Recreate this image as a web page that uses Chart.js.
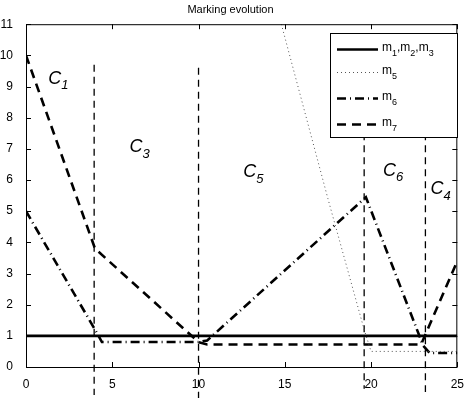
<!DOCTYPE html>
<html>
<head>
<meta charset="utf-8">
<script src="https://cdn.jsdelivr.net/npm/chart.js@4"></script>
<style>
  html, body { margin: 0; padding: 0; background: #fff; }
  #wrap { width: 466px; height: 398px; }
</style>
</head>
<body>
<div id="wrap"><canvas id="chart" width="466" height="398"></canvas></div>
<script>
// values
var m123X = [0, 25];
var m123Y = [1, 1];
var m5X = [14.8, 17.5, 19.6, 20, 25];
var m5Y = [11, 5.4, 1.2, 0.5, 0.5];
var m6X = [0, 4, 4.4, 10, 10.5, 19.7, 22.8, 23, 23.4, 25];
var m6Y = [5, 1.2, 0.8, 0.8, 0.85, 5.45, 1.0, 0.7, 0.45, 0.45];
var m7X = [0, 4, 10, 10.5, 22.9, 25];
var m7Y = [10, 3.8, 0.8, 0.72, 0.72, 3.4];

// phase boundaries (x, top, bottom)
var boundX = [3.95, 10, 19.6, 23.15];
var boundTop = [9.7, 9.6, 7.5, 7.5];
var boundBottom = [-0.9, -1.0, -0.7, -0.8];

// region labels
var regionName = ['1', '3', '5', '6', '4'];
var regionX = [1.7, 6.4, 13.0, 21.1, 23.85];
var regionY = [9.25, 7.05, 6.25, 6.3, 5.7];

var xTickVals = [0, 5, 10, 15, 20, 25];
var yTickVals = [0, 1, 2, 3, 4, 5, 6, 7, 8, 9, 10, 11];

var legendSubs = [['1', '2', '3'], ['5'], ['6'], ['7']];

function pts(xs, ys) {
    return xs.map(function (x, i) { return { x: x, y: ys[i] }; });
}

var lineStyles = [
    { borderColor: '#000', borderWidth: 2.6, borderDash: [] },
    { borderColor: '#555', borderWidth: 1, borderDash: [1, 3] },
    { borderColor: '#000', borderWidth: 2.6, borderDash: [9, 4, 1, 4] },
    { borderColor: '#000', borderWidth: 2.6, borderDash: [9, 6] }
];

var datasets = [
    Object.assign({ label: 'm123', data: pts(m123X, m123Y) }, lineStyles[0]),
    Object.assign({ label: 'm5', data: pts(m5X, m5Y) }, lineStyles[1]),
    Object.assign({ label: 'm6', data: pts(m6X, m6Y) }, lineStyles[2]),
    Object.assign({ label: 'm7', data: pts(m7X, m7Y) }, lineStyles[3])
];

boundX.forEach(function (bx, i) {
    datasets.push({
        label: 'bound' + i,
        data: [{ x: bx, y: boundTop[i] }, { x: bx, y: boundBottom[i] }],
        borderColor: '#000',
        borderWidth: 1.3,
        borderDash: [7, 5],
        clip: false
    });
});

var font = '"Liberation Sans", Arial, Helvetica, sans-serif';

// box, inward ticks, region labels and legend
var decor = {
    id: 'decor',
    afterDraw: function (chart) {
        var ctx = chart.ctx;
        var a = chart.chartArea;
        var xs = chart.scales.x, ys = chart.scales.y;
        ctx.save();
        ctx.strokeStyle = '#000';
        ctx.lineWidth = 1;
        ctx.strokeRect(a.left + 0.5, a.top + 0.5, a.right - a.left - 1, a.bottom - a.top);

        ctx.beginPath();
        xTickVals.forEach(function (v) {
            var px = Math.round(xs.getPixelForValue(v)) + 0.5;
            ctx.moveTo(px, a.bottom); ctx.lineTo(px, a.bottom - 5);
            ctx.moveTo(px, a.top); ctx.lineTo(px, a.top + 5);
        });
        yTickVals.forEach(function (v) {
            var py = Math.round(ys.getPixelForValue(v)) + 0.5;
            ctx.moveTo(a.left, py); ctx.lineTo(a.left + 5, py);
            ctx.moveTo(a.right, py); ctx.lineTo(a.right - 5, py);
        });
        ctx.stroke();

        // region labels C_i
        ctx.fillStyle = '#000';
        ctx.textBaseline = 'middle';
        ctx.textAlign = 'left';
        regionName.forEach(function (n, i) {
            var px = xs.getPixelForValue(regionX[i]);
            var py = ys.getPixelForValue(regionY[i]);
            ctx.font = 'italic 18px ' + font;
            ctx.fillText('C', px - 7, py);
            var w = ctx.measureText('C').width;
            ctx.font = 'italic 13px ' + font;
            ctx.fillText(n, px - 7 + w, py + 7);
        });

        // legend
        var lx = 330, ly = 33, lw = 127, lh = 104;
        ctx.fillStyle = '#fff';
        ctx.fillRect(lx, ly, lw, lh);
        ctx.strokeStyle = '#000';
        ctx.lineWidth = 1;
        ctx.setLineDash([]);
        ctx.strokeRect(lx + 0.5, ly + 0.5, lw, lh);
        var rowY = [49, 72, 98, 124];
        legendSubs.forEach(function (subs, i) {
            var st = lineStyles[i];
            ctx.strokeStyle = st.borderColor;
            ctx.lineWidth = st.borderWidth;
            ctx.setLineDash(st.borderDash);
            ctx.beginPath();
            ctx.moveTo(337, rowY[i] + 0.5);
            ctx.lineTo(378, rowY[i] + 0.5);
            ctx.stroke();
            ctx.setLineDash([]);
            ctx.fillStyle = '#000';
            var tx = 382;
            subs.forEach(function (s, j) {
                ctx.font = '12px ' + font;
                var t = (j > 0 ? ',' : '') + 'm';
                ctx.fillText(t, tx, rowY[i] - 1);
                tx += ctx.measureText(t).width;
                ctx.font = '9px ' + font;
                ctx.fillText(s, tx, rowY[i] + 5);
                tx += ctx.measureText(s).width;
            });
        });
        ctx.restore();
    }
};

new Chart(document.getElementById('chart'), {
    type: 'line',
    data: { datasets: datasets },
    plugins: [decor],
    options: {
        responsive: false,
        animation: false,
        layout: { padding: { left: 0, right: 5, top: 0, bottom: 0 } },
        elements: { point: { radius: 0 }, line: { tension: 0 } },
        plugins: {
            legend: { display: false },
            tooltip: { enabled: false },
            title: {
                display: true,
                text: 'Marking evolution',
                color: '#000',
                font: { family: font, size: 11, weight: 'normal' },
                padding: { top: 3, bottom: 8 }
            }
        },
        scales: {
            x: {
                type: 'linear',
                min: 0, max: 25,
                grid: { display: false },
                border: { display: false },
                afterFit: function (s) { s.height = 31; },
                ticks: {
                    stepSize: 5,
                    color: '#000',
                    padding: 2,
                    maxRotation: 0,
                    font: { family: font, size: 12 }
                }
            },
            y: {
                min: 0, max: 11,
                grid: { display: false },
                border: { display: false },
                afterFit: function (s) { s.width = 26; },
                ticks: {
                    stepSize: 1,
                    color: '#000',
                    padding: 5,
                    font: { family: font, size: 12 }
                }
            }
        }
    }
});
</script>
</body>
</html>
